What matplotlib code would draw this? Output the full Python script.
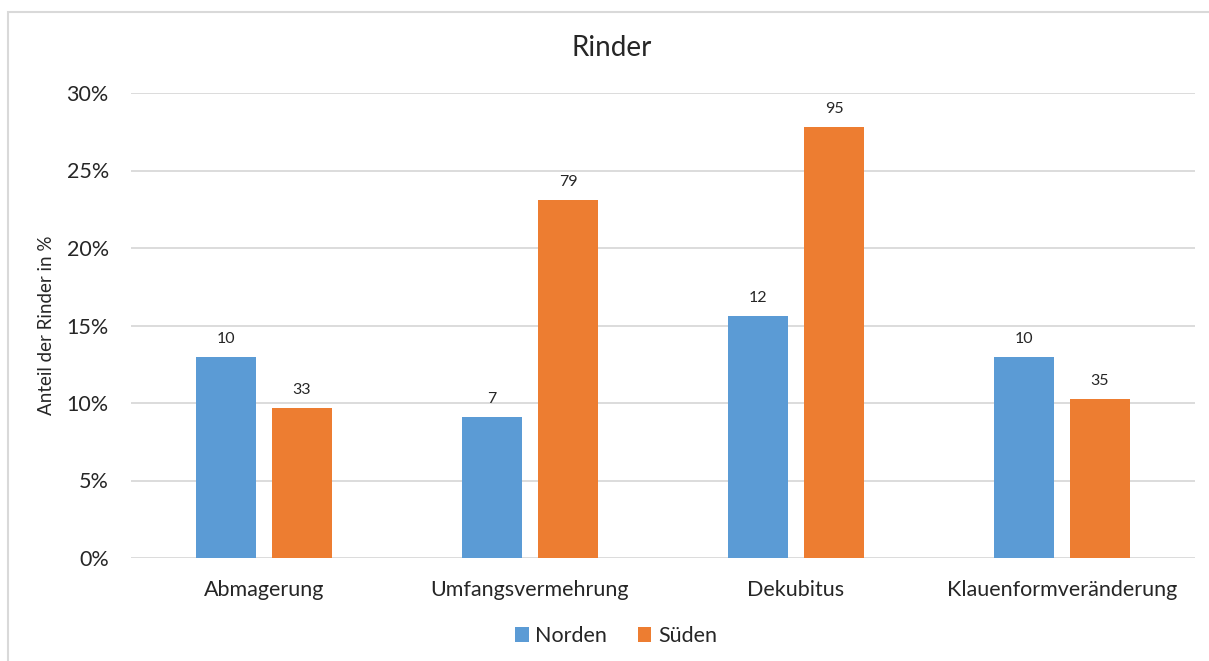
import numpy as np
import matplotlib
matplotlib.use("Agg")
import matplotlib.pyplot as plt
from matplotlib.patches import Rectangle
from matplotlib.ticker import PercentFormatter

plt.rcParams['font.family'] = ['Lato', 'DejaVu Sans']

categories = ['Abmagerung', 'Umfangsvermehrung', 'Dekubitus', 'Klauenformveränderung']
norden_counts = [10, 7, 12, 10]
sueden_counts = [33, 79, 95, 35]
# number of animals examined per region
norden_total = 77
sueden_total = 342

norden_pct = [c / norden_total * 100 for c in norden_counts]
sueden_pct = [c / sueden_total * 100 for c in sueden_counts]

blue = '#5B9BD5'
orange = '#ED7D31'
grid_col = '#D9D9D9'
text_col = '#262626'

fig = plt.figure(figsize=(12.09, 6.61), dpi=100)
ax = fig.add_axes([131 / 1209, 103 / 661, 1064 / 1209, 465 / 661])

# chart frame
fig.patches.append(Rectangle((8 / 1209, -0.01), 1.02, 1 - 12 / 661 + 0.01,
                             transform=fig.transFigure, fill=False,
                             edgecolor=grid_col, linewidth=1.5))

x = np.arange(len(categories))
w = 0.2256
gap = 0.06
b1 = ax.bar(x - (w + gap) / 2, norden_pct, w, color=blue, label='Norden', zorder=3)
b2 = ax.bar(x + (w + gap) / 2, sueden_pct, w, color=orange, label='Süden', zorder=3)

for bars, counts in ((b1, norden_counts), (b2, sueden_counts)):
    for bar, c in zip(bars, counts):
        ax.annotate(str(c), (bar.get_x() + bar.get_width() / 2, bar.get_height()),
                    xytext=(0, 8), textcoords='offset points', ha='center', va='bottom',
                    fontsize=11.5, color=text_col)

ax.set_xlim(-0.5, len(categories) - 0.5)
ax.set_ylim(0, 30)
ax.set_yticks(np.arange(0, 31, 5))
ax.yaxis.set_major_formatter(PercentFormatter(decimals=0))
ax.set_xticks(x)
ax.set_xticklabels(categories)
ax.tick_params(axis='both', length=0, labelsize=15.5, colors=text_col)
ax.tick_params(axis='x', pad=16)
ax.tick_params(axis='y', pad=16)
ax.grid(axis='y', color=grid_col, linewidth=1.3, zorder=0)
for s in ax.spines.values():
    s.set_visible(False)

ax.set_ylabel('Anteil der Rinder in %', fontsize=13.5, color=text_col, labelpad=8)
fig.text(612 / 1209, 1 - 48 / 661, 'Rinder', ha='center', va='center',
         fontsize=20, color=text_col)

ax.legend(loc='center', bbox_to_anchor=(616 / 1209, 1 - 636 / 661),
          bbox_transform=fig.transFigure, ncol=2, frameon=False, fontsize=15.5,
          handlelength=0.65, handleheight=0.65, handletextpad=0.3, columnspacing=1.4,
          labelcolor=text_col)

fig.savefig('out.png', dpi=100)
